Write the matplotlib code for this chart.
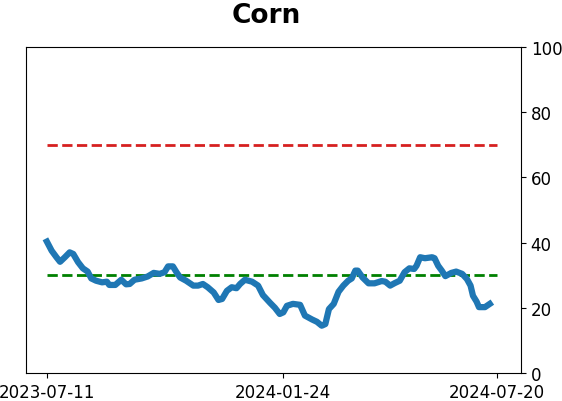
import numpy as np
import pandas as pd
import matplotlib
matplotlib.use('Agg')
import matplotlib.pyplot as plt

start = pd.Timestamp('2023-07-11')
end = pd.Timestamp('2024-07-20')
mid = pd.Timestamp('2024-01-24')

# day offsets from start, and the indicator value
days = [0, 4, 8, 11, 15, 19, 22, 26, 30, 34, 37, 41, 46, 50, 52, 57, 62, 66, 69, 73,
        79, 84, 89, 94, 98, 101, 105, 108, 111, 116, 122, 126, 130, 134, 139, 143, 146, 150, 154, 158,
        161, 165, 171, 176, 180, 186, 190, 194, 197, 200, 205, 211, 215, 221, 225, 229, 232, 235, 239, 243,
        247, 251, 254, 257, 259, 263, 268, 273, 279, 282, 286, 290, 294, 298, 302, 306, 308, 311, 315, 321,
        323, 326, 329, 332, 337, 341, 346, 350, 353, 355, 358, 360, 365, 369]
values = [40.3, 37.5, 35.5, 34.1, 35.5, 37.0, 36.5, 34.0, 32.1, 31.1, 29.0, 28.3, 27.8, 28.0, 27.0, 27.0, 28.6, 27.2, 27.3, 28.6,
          29.0, 29.6, 30.7, 30.4, 30.9, 32.7, 32.7, 30.9, 29.3, 28.3, 26.8, 26.8, 27.3, 26.3, 24.7, 22.4, 22.7, 25.2, 26.3, 26.0,
          27.3, 28.6, 28.0, 26.8, 23.9, 21.5, 20.0, 18.1, 18.6, 20.6, 21.2, 20.9, 17.6, 16.4, 15.7, 14.5, 15.0, 19.6, 21.2, 24.9,
          26.8, 28.3, 29.0, 31.4, 31.4, 29.3, 27.5, 27.5, 28.2, 28.0, 26.8, 27.6, 28.3, 30.9, 32.1, 31.9, 32.9, 35.5, 35.2, 35.5,
          35.2, 32.9, 31.4, 29.7, 30.7, 31.1, 30.4, 28.8, 26.8, 23.7, 21.9, 20.2, 20.2, 21.2]
upper = 70
lower = 30

dates = start + pd.to_timedelta(days, unit='D')

fig = plt.figure(figsize=(5.62, 4.02), dpi=100)
ax = fig.add_axes([0.046, 0.0697, 0.881, 0.811])

ax.plot([start, end], [upper, upper], '--', color='#d62020', lw=2)
ax.plot([start, end], [lower, lower], '--', color='green', lw=2)
ax.plot(dates, values, color='#1f77b4', lw=4.5)

ax.set_ylim(0, 100)
ax.set_xlim(start - pd.Timedelta(days=17.5), start + pd.Timedelta(days=395))
ax.yaxis.tick_right()
ax.set_yticks([0, 20, 40, 60, 80, 100])
ax.set_xticks([start, mid, end])
ax.set_xticklabels(['2023-07-11', '2024-01-24', '2024-07-20'])
ax.tick_params(labelsize=12)
ax.set_title('Corn', fontsize=19, fontweight='bold', pad=18, x=0.485)

fig.savefig('out.png', dpi=100)
